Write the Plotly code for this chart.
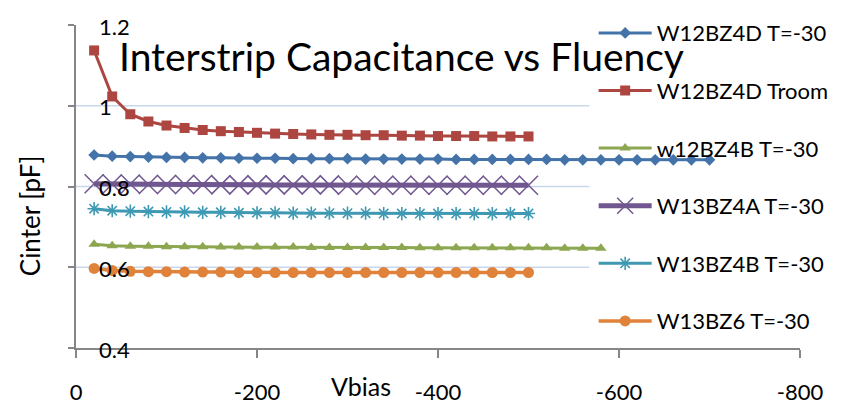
import plotly.graph_objects as go

# ---- data ----
x_short = [-20, -40, -60, -80, -100, -120, -140, -160, -180, -200, -220, -240, -260,
           -280, -300, -320, -340, -360, -380, -400, -420, -440, -460, -480, -500]
x_green = x_short + [-520, -540, -560, -580]
x_blue = x_green + [-600, -620, -640, -660, -680, -700]

w12bz4d_cold = [0.878, 0.875, 0.874, 0.873, 0.872, 0.872, 0.871, 0.871, 0.870, 0.870,
                0.870, 0.869, 0.869, 0.869, 0.869, 0.868, 0.868, 0.868, 0.868, 0.868,
                0.867, 0.867, 0.867, 0.867, 0.867, 0.867, 0.866, 0.866, 0.866, 0.866,
                0.866, 0.866, 0.866, 0.866, 0.866]
w12bz4d_room = [1.137, 1.023, 0.979, 0.961, 0.951, 0.945, 0.940, 0.937, 0.935, 0.933,
                0.931, 0.930, 0.929, 0.928, 0.928, 0.927, 0.927, 0.926, 0.926, 0.925,
                0.925, 0.925, 0.924, 0.924, 0.924]
w12bz4b_cold = [0.657, 0.653, 0.652, 0.652, 0.651, 0.651, 0.651, 0.650, 0.650, 0.650,
                0.650, 0.650, 0.649, 0.649, 0.649, 0.649, 0.649, 0.649, 0.648, 0.648,
                0.648, 0.648, 0.648, 0.648, 0.648, 0.648, 0.647, 0.647, 0.647]
w13bz4a_cold = [0.807, 0.806, 0.806, 0.805, 0.805, 0.805, 0.805, 0.804, 0.804, 0.804,
                0.804, 0.804, 0.804, 0.804, 0.803, 0.803, 0.803, 0.803, 0.803, 0.803,
                0.803, 0.803, 0.803, 0.803, 0.803]
w13bz4b_cold = [0.745, 0.740, 0.739, 0.738, 0.737, 0.737, 0.736, 0.736, 0.735, 0.735,
                0.735, 0.734, 0.734, 0.734, 0.734, 0.734, 0.733, 0.733, 0.733, 0.733,
                0.733, 0.733, 0.733, 0.733, 0.733]
w13bz6_cold = [0.597, 0.592, 0.590, 0.589, 0.589, 0.588, 0.588, 0.588, 0.587, 0.587,
               0.587, 0.587, 0.587, 0.587, 0.587, 0.587, 0.587, 0.587, 0.587, 0.587,
               0.587, 0.587, 0.587, 0.587, 0.587]

x_tickvals = [0, -200, -400, -600, -800]
x_ticktext = ["0", "-200", "-400", "-600", "-800"]
y_tickvals = [0.4, 0.6, 0.8, 1.0, 1.2]
y_ticktext = ["0.4", "0.6", "0.8", "1", "1.2"]
grid_vals = [0.6, 0.8, 1.0]

FONT = "Lato"
fig = go.Figure()

series = [
    ("W12BZ4D T=-30", x_blue, w12bz4d_cold, "#4473AA", 3, dict(symbol="diamond", size=9)),
    ("W12BZ4D Troom", x_short, w12bz4d_room, "#AD4541", 3, dict(symbol="square", size=10)),
    ("w12BZ4B T=-30", x_green, w12bz4b_cold, "#8DA750", 3, dict(symbol="triangle-up", size=10)),
    ("W13BZ4A T=-30", x_short, w13bz4a_cold, "#71578F", 5,
     dict(symbol="x-thin-open", size=19, line=dict(width=1.5, color="#71578F"))),
    ("W13BZ4B T=-30", x_short, w13bz4b_cold, "#3F99B3", 3,
     dict(symbol="asterisk-open", size=11, line=dict(width=1.6, color="#3F99B3"))),
    ("W13BZ6 T=-30", x_short, w13bz6_cold, "#E0823A", 3.5, dict(symbol="circle", size=11)),
]

for i, (name, xs, ys, col, lw, mk) in enumerate(series):
    mk = dict(mk)
    mk.setdefault("color", col)
    fig.add_trace(go.Scatter(x=xs, y=ys, name=name, mode="lines+markers",
                             line=dict(color=col, width=lw), marker=mk,
                             legendgroup=f"g{i}"))

# gridlines (stop before legend, as in reference)
for g in grid_vals:
    fig.add_shape(type="line", xref="paper", yref="y", x0=0, x1=0.709, y0=g, y1=g,
                  line=dict(color="#C9D7EC", width=1.5), layer="below")

annotations = [
    dict(text="Interstrip Capacitance vs Fluency", xref="paper", yref="paper",
         x=0.45, y=0.905, xanchor="center", yanchor="middle", showarrow=False,
         font=dict(size=39, family=FONT)),
    dict(text="Vbias", xref="paper", yref="paper", x=0.394, y=-0.118,
         xanchor="center", yanchor="middle", showarrow=False,
         font=dict(size=25, family=FONT)),
    dict(text="Cinter [pF]", xref="paper", yref="paper", x=-0.064, y=0.41,
         xanchor="center", yanchor="middle", showarrow=False, textangle=-90,
         font=dict(size=26, family=FONT)),
]
# y tick labels drawn inside the plot area, right of the axis (Excel style)
for v, t in zip(y_tickvals, y_ticktext):
    annotations.append(dict(text=t, xref="paper", yref="y", x=0, y=v, xanchor="left",
                            yanchor="middle", xshift=21, yshift=-1, showarrow=False,
                            font=dict(size=22, family=FONT)))

fig.update_layout(
    width=854, height=404,
    margin=dict(l=76, r=54, t=18, b=56),
    paper_bgcolor="white", plot_bgcolor="white",
    font=dict(family=FONT, color="black"),
    showlegend=True,
    legend=dict(x=0.715, y=1.04, xanchor="left", yanchor="top",
                font=dict(size=22, family=FONT), bgcolor="rgba(0,0,0,0)",
                tracegroupgap=26, itemwidth=53, maxheight=404),
    xaxis=dict(range=[0, -800], tickvals=x_tickvals, ticktext=x_ticktext,
               showgrid=False, zeroline=False, showline=True, linecolor="#868686",
               linewidth=1.5, ticks="outside", ticklen=8, tickcolor="#868686",
               tickwidth=1.5, tickfont=dict(size=22, family=FONT),
               ticklabelstandoff=16, automargin=False),
    yaxis=dict(range=[0.4, 1.2], tickvals=y_tickvals, showticklabels=False,
               showgrid=False, zeroline=False, showline=True, linecolor="#868686",
               linewidth=1.5, ticks="outside", ticklen=6, tickcolor="#868686",
               tickwidth=1.5, automargin=False),
    annotations=annotations,
)

fig.write_html("out.html")
